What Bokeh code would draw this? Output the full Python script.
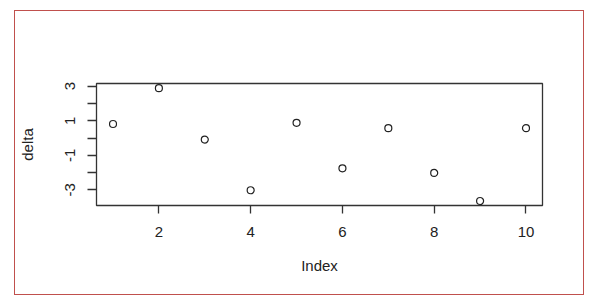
from bokeh.plotting import figure
from bokeh.models import FixedTicker, Range1d
from bokeh.embed import file_html
from bokeh.resources import INLINE

# data
index = [1, 2, 3, 4, 5, 6, 7, 8, 9, 10]
delta = [0.81, 2.88, -0.09, -3.02, 0.88, -1.75, 0.57, -2.02, -3.64, 0.57]
x_ticks = [2, 4, 6, 8, 10]
y_ticks = [-3, -1, 1, 3]
y_minor = [-2, 0, 2]

FONT = "Liberation Sans"
TXT = "#222222"

p = figure(width=568, height=283, output_backend="svg", toolbar_location=None,
           x_range=Range1d(0.64, 10.36), y_range=Range1d(-3.90, 3.15),
           min_border_left=80, min_border_right=41, min_border_top=72,
           min_border_bottom=89)
p.margin = (11, 17, 11, 15)
p.styles = {"outline": "1px solid #c0504d", "outline-offset": "0px"}
p.background_fill_color = "white"
p.border_fill_color = "white"
p.grid.visible = False
p.outline_line_color = "#333333"
p.outline_line_width = 1.3

p.scatter(index, delta, marker="circle", size=7, fill_color=None,
          line_color="#222222", line_width=1.2)

xa = p.xaxis[0]
xa.ticker = FixedTicker(ticks=x_ticks)
xa.axis_label = "Index"
ya = p.yaxis[0]
ya.ticker = FixedTicker(ticks=y_ticks, minor_ticks=y_minor)
ya.axis_label = "delta"
ya.major_label_orientation = "vertical"
ya.major_label_overrides = {-3: "-3", -1: "-1", 1: "1", 3: "3"}

for ax in (xa, ya):
    ax.axis_line_color = None
    ax.major_tick_line_color = "#333333"
    ax.minor_tick_line_color = "#333333"
    ax.major_tick_line_width = 1.3
    ax.minor_tick_line_width = 1.3
    ax.major_tick_in = 0
    ax.minor_tick_in = 0
    ax.major_label_text_font = FONT
    ax.major_label_text_font_size = "15px"
    ax.major_label_text_color = TXT
    ax.axis_label_text_font = FONT
    ax.axis_label_text_font_size = "15px"
    ax.axis_label_text_font_style = "normal"
    ax.axis_label_text_color = TXT

xa.major_tick_out = 8
xa.minor_tick_out = 0
xa.major_label_standoff = 13
xa.axis_label_standoff = 17
ya.major_tick_out = 9
ya.minor_tick_out = 9
ya.major_label_standoff = 12
ya.axis_label_standoff = 27

open("out.html", "w").write(file_html(p, INLINE))
